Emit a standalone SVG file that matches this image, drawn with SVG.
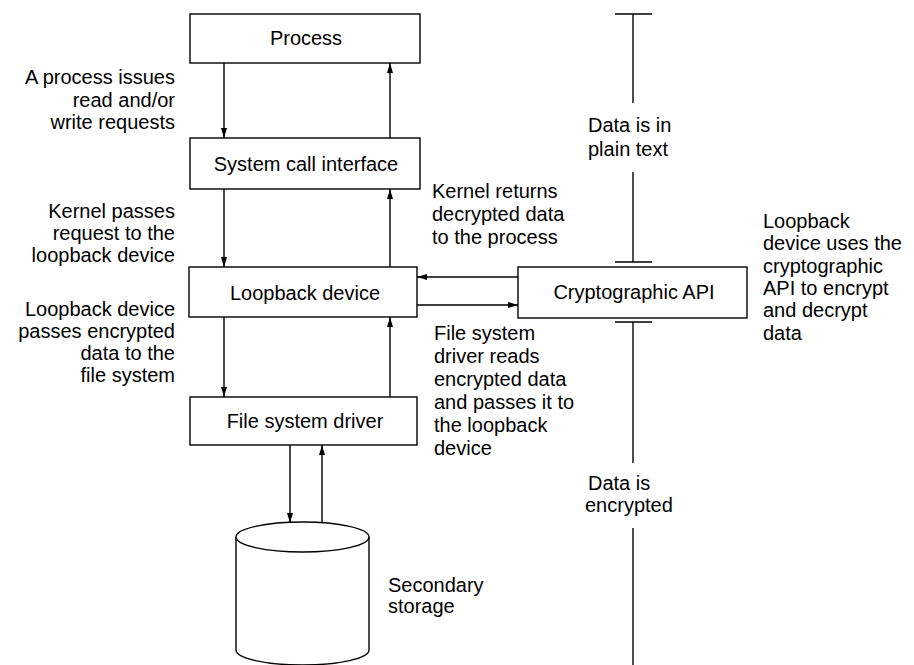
<svg xmlns="http://www.w3.org/2000/svg" width="914" height="665" viewBox="0 0 914 665">
<style>
text{font-family:"Liberation Sans",Arial,sans-serif;font-size:20px;fill:#000}
.c{text-anchor:middle}
.r{text-anchor:end}
.box{fill:#fff;stroke:#000;stroke-width:1.4}
.ln{stroke:#000;stroke-width:1.4;fill:none}
.ar{stroke:#000;stroke-width:1.4;fill:none;marker-end:url(#ah)}
</style>
<defs>
<marker id="ah" viewBox="0 0 10 6" refX="10" refY="3" markerWidth="10" markerHeight="6" markerUnits="userSpaceOnUse" orient="auto">
<path d="M0,0 L10,3 L0,6 z" fill="#000"/>
</marker>
</defs>
<g id="connectors">
<line class="ar" x1="224" y1="63" x2="224" y2="138"/>
<line class="ar" x1="390" y1="138" x2="390" y2="63"/>
<line class="ar" x1="224" y1="189" x2="224" y2="267"/>
<line class="ar" x1="390" y1="267" x2="390" y2="189"/>
<line class="ar" x1="224" y1="317" x2="224" y2="397"/>
<line class="ar" x1="390" y1="397" x2="390" y2="317"/>
<line class="ar" x1="518" y1="277" x2="417" y2="277"/>
<line class="ar" x1="417" y1="305" x2="518" y2="305"/>
<line class="ar" x1="290" y1="445" x2="290" y2="523"/>
<line class="ar" x1="322" y1="523" x2="322" y2="445"/>
</g>
<g id="scale">
<line class="ln" x1="615" y1="14" x2="652" y2="14"/>
<line class="ln" x1="633" y1="14" x2="633" y2="103"/>
<line class="ln" x1="633" y1="172" x2="633" y2="262"/>
<line class="ln" x1="615" y1="262" x2="652" y2="262"/>
<line class="ln" x1="615" y1="322" x2="652" y2="322"/>
<line class="ln" x1="633" y1="322" x2="633" y2="463"/>
<line class="ln" x1="633" y1="528" x2="633" y2="665"/>
<text x="588" y="132">Data is in</text>
<text x="588" y="156">plain text</text>
<text x="588" y="490">Data is</text>
<text x="585" y="512">encrypted</text>
</g>
<g id="process">
<rect class="box" x="190" y="14" width="230" height="49"/>
<text class="c" x="306" y="45">Process</text>
</g>
<g id="syscall">
<rect class="box" x="190" y="138" width="230" height="51"/>
<text class="c" x="306" y="171">System call interface</text>
</g>
<g id="loopback">
<rect class="box" x="189" y="267" width="228" height="50"/>
<text class="c" x="305" y="300">Loopback device</text>
</g>
<g id="fsdriver">
<rect class="box" x="190" y="397" width="227" height="48"/>
<text class="c" x="305" y="428">File system driver</text>
</g>
<g id="crypto">
<rect class="box" x="518" y="267" width="229" height="51"/>
<text class="c" x="634" y="299">Cryptographic API</text>
</g>
<g id="storage">
<path class="box" d="M236,537 L236,650 A66.5,15 0 0 0 369,650 L369,537"/>
<ellipse class="box" cx="302.5" cy="537" rx="66.5" ry="15"/>
<text x="388" y="592">Secondary</text>
<text x="388" y="613">storage</text>
</g>
<g id="labels">
<text class="r" x="175" y="84">A process issues</text>
<text class="r" x="175" y="107">read and/or</text>
<text class="r" x="175" y="129">write requests</text>
<text class="r" x="175" y="218">Kernel passes</text>
<text class="r" x="175" y="240">request to the</text>
<text class="r" x="175" y="262">loopback device</text>
<text class="r" x="175" y="316">Loopback device</text>
<text class="r" x="175" y="338">passes encrypted</text>
<text class="r" x="175" y="360">data to the</text>
<text class="r" x="175" y="382">file system</text>
<text x="432" y="198">Kernel returns</text>
<text x="432" y="221">decrypted data</text>
<text x="432" y="244">to the process</text>
<text x="434" y="340">File system</text>
<text x="434" y="363">driver reads</text>
<text x="434" y="386">encrypted data</text>
<text x="434" y="409">and passes it to</text>
<text x="434" y="432">the loopback</text>
<text x="434" y="455">device</text>
<text x="763" y="228">Loopback</text>
<text x="763" y="250">device uses the</text>
<text x="763" y="273">cryptographic</text>
<text x="763" y="295">API to encrypt</text>
<text x="763" y="317">and decrypt</text>
<text x="763" y="340">data</text>
</g>
</svg>
